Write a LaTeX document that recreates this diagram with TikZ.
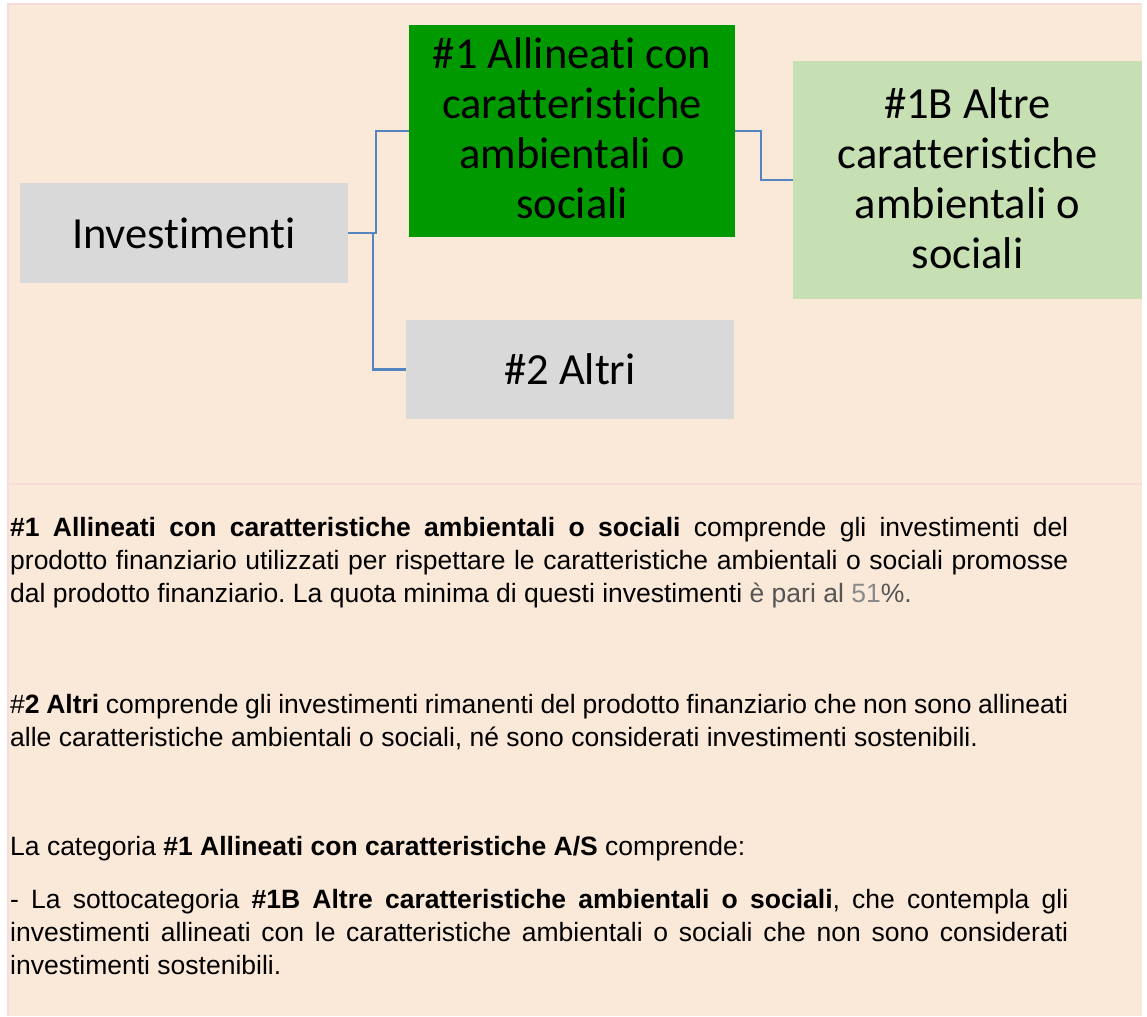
\documentclass[tikz,border=0pt]{standalone}
\usepackage{fontspec}
\setmainfont[Ligatures=NoCommon]{Liberation Sans}
\newfontfamily\boxfont[RawFeature={-liga;-clig;-dlig;-calt;-hlig}]{Carlito}
\hyphenpenalty=10000
\exhyphenpenalty=10000
\tolerance=10000
\frenchspacing
\newcommand\nolig{\kern0pt }
\definecolor{beige}{HTML}{FAE8D8}
\definecolor{pinkline}{HTML}{F8DCDC}
\definecolor{boxgray}{HTML}{D9D9D9}
\definecolor{darkgreen}{HTML}{009900}
\definecolor{lightgreen}{HTML}{C6E0B4}
\definecolor{conn}{HTML}{5585C0}
\definecolor{txtgray}{HTML}{555555}
\definecolor{numgray}{HTML}{8A8A8A}
\tikzset{
  box/.style={inner sep=0pt, align=center, text=black,
    font=\boxfont\fontsize{44.5}{50}\selectfont},
  connector/.style={draw=conn, line width=2.2pt},
  para/.style={anchor=base west, inner sep=0pt, text width=1058pt, align=justify,
    font=\frenchspacing\fontsize{26.5}{33}\selectfont, text=black}
}
\begin{document}
\begin{tikzpicture}[x=1pt,y=-1pt]
\useasboundingbox (0,0) rectangle (1147,1016);
\fill[white] (0,0) rectangle (1147,1016);
\fill[beige] (8,4) rectangle (1142,1016);
\draw[pinkline, line width=1.5pt] (8,1016) -- (8,4) -- (1142,4);
\draw[pinkline, line width=1.5pt] (8,484) -- (1142,484);

\node[box, fill=boxgray, minimum width=328pt, minimum height=100pt] (inv) at (184,233) {Invest\nolig imen\nolig t\nolig i};
\node[box, fill=darkgreen, minimum width=326pt, minimum height=212pt] (g1) at (572,131)
  {\#1 Allineat\nolig i con\\carat\nolig t\nolig eris\nolig t\nolig iche\\ambientali o\\sociali\rule[-5pt]{0pt}{5pt}};
\node[box, fill=lightgreen, minimum width=349pt, minimum height=238pt] (g1b) at (967.5,180)
  {\#1B Altre\\carat\nolig t\nolig eris\nolig t\nolig iche\\ambientali o\\sociali\rule[-4pt]{0pt}{4pt}};
\node[box, fill=boxgray, minimum width=328pt, minimum height=99pt] (o2) at (570,369.5) {\#2 Altri};

\draw[connector] (inv.east) -- ++(28,0) |- (g1.west);
\draw[connector] (inv.east) -- ++(25,0) |- (o2.west);
\draw[connector] (g1.east) -- ++(26,0) |- (g1b.west);

\node[para] (p1) at (10,536) {\textbf{\#1 Allineati con caratteristiche ambientali o sociali} comprende gli investimenti del\linebreak prodotto finanziario utilizzati per rispettare le caratteristiche ambientali o sociali promosse\linebreak dal prodotto finanziario. La quota minima di questi investimenti {\color{txtgray}è pari al }{\color{numgray}51}{\color{txtgray}\%.}};
\node[para] (p2) at (10,713) {\#\textbf{2 Altri} comprende gli investimenti rimanenti del prodotto finanziario che non sono allineati\linebreak alle caratteristiche ambientali o sociali, né sono considerati investimenti sostenibili.};
\node[para] (p3) at (10,855) {La categoria \textbf{\#1 Allineati con caratteristiche A/S} comprende:};
\node[para] (p4) at (10,908) {- La sottocategoria \textbf{\#1B Altre caratteristiche ambientali o sociali}, che contempla gli\linebreak investimenti allineati con le caratteristiche ambientali o sociali che non sono considerati\linebreak investimenti sostenibili.};
\end{tikzpicture}
\end{document}
